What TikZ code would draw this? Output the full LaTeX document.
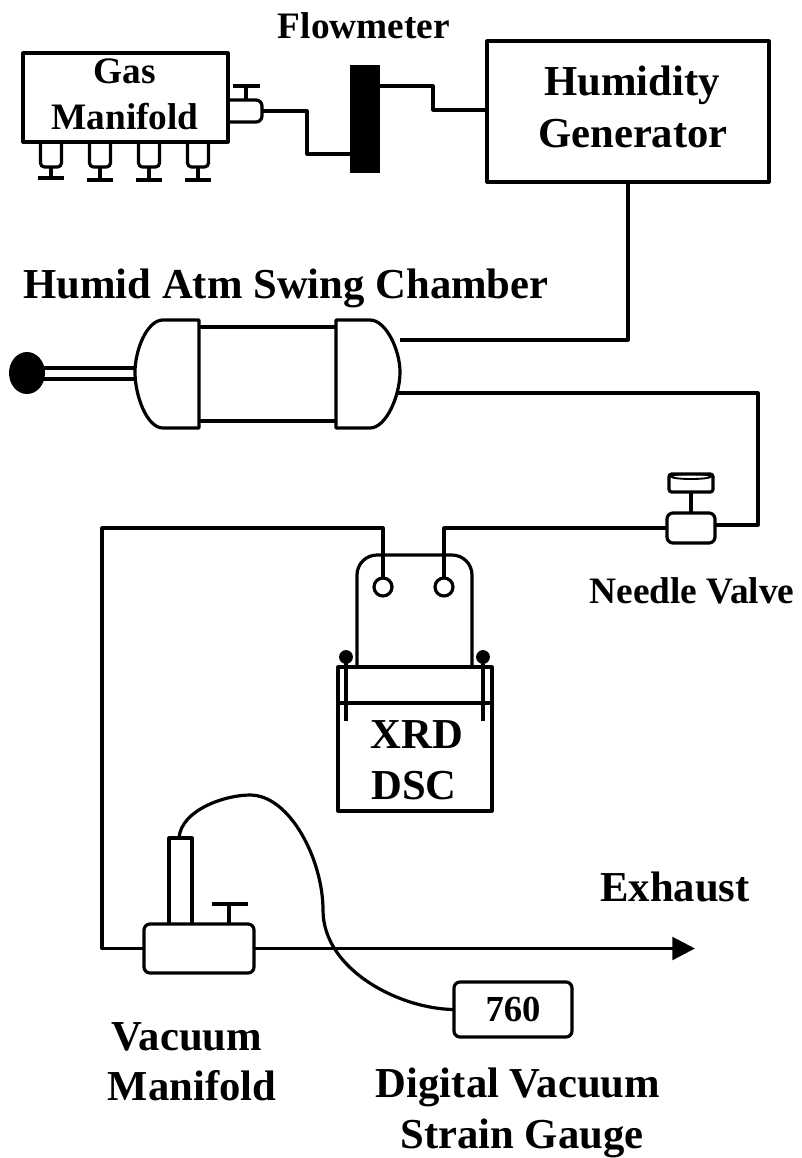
\documentclass[tikz,border=0pt]{standalone}
\usepackage{fontspec}
\setmainfont{Liberation Serif}
\usetikzlibrary{arrows.meta, shapes.geometric}
\def\px{0.75pt}
\tikzset{
    labelbig/.style={font=\fontsize{32}{39}\selectfont\bfseries, anchor=base, inner sep=0pt},
    labelsmall/.style={font=\fontsize{28}{34}\selectfont\bfseries, anchor=base, inner sep=0pt},
    box/.style={draw, rectangle, outer sep=0pt, inner sep=0pt},
    roundbox/.style={box, rounded corners=4.5pt}
}
\begin{document}
\begin{tikzpicture}[x=\px, y=-\px, line width=2.4pt, line join=round]

    \useasboundingbox (0,0) rectangle (801,1158);

    % Rubinetti del collettore gas
    \foreach \x/\y in {51/178, 100/180, 149/180, 198/180} {
        \draw[rounded corners=3pt] (\x-10.5,142) -- (\x-10.5,167) -- (\x+10.5,167) -- (\x+10.5,142);
        \draw (\x,167) -- (\x,\y);
        \draw (\x-13,\y) -- (\x+13,\y);
    }

    % Valvola e collettore gas
    \node[roundbox, minimum width=44*\px, minimum height=22*\px] (gasvalve) at (240,111) {};
    \draw (246,100) -- (246,86);
    \draw (233,86) -- (260,86);
    \node[box, fill=white, minimum width=205*\px, minimum height=89*\px] (gasbox) at (125.5,97.5) {};

    % Flussimetro e generatore
    \node[fill=black, outer sep=0pt, inner sep=0pt, minimum width=30*\px, minimum height=108*\px] (flowmeter) at (365,119) {};
    \node[box, minimum width=282*\px, minimum height=141*\px] (humgen) at (628,111.5) {};
    \coordinate (fmin) at (350,154);
    \coordinate (fmout) at (380,86);
    \coordinate (hgin) at (487,110);
    \draw (gasvalve.east) -- (307,111) -- (307,154) -- (fmin);
    \draw (fmout) -- (433,86) -- (433,110) -- (hgin);

    % Camera: calotte e corpo
    \draw (199,320) -- (163,320) .. controls (147,320) and (135,350) .. (135,372)
        .. controls (135,396) and (147,428) .. (163,428) -- (199,428) -- cycle;
    \draw (336,320) -- (370,320) .. controls (386,320) and (400,350) .. (400,372)
        .. controls (400,396) and (386,428) .. (370,428) -- (336,428) -- cycle;
    \draw (199,327) -- (336,327);
    \draw (199,421) -- (336,421);

    % Impugnatura
    \draw (40,368) -- (135,368);
    \draw (40,379) -- (135,379);
    \node[fill=black, ellipse, inner sep=0pt, minimum width=36*\px, minimum height=42*\px] (knob) at (27,373) {};

    % Linee dalla camera
    \coordinate (chamberin) at (400,340);
    \coordinate (chamberout) at (397,393);
    \node[roundbox, minimum width=48*\px, minimum height=30*\px] (needlevalve) at (691,528) {};
    \coordinate (nvin) at (715,525);
    \draw (humgen.south) -- (628,340) -- (chamberin);
    \draw (chamberout) -- (758,393) -- (758,525) -- (nvin);

    % Valvola a spillo
    \draw (691,513) -- (691,492);
    \draw[rounded corners=2pt] (669,474) rectangle (713,492);
    \draw[line width=1.4pt] (691,476.5) ellipse [x radius=20*\px, y radius=2.5*\px];

    % Testa del campione
    \draw[rounded corners=15pt] (357,667) -- (357,555) -- (472,555) -- (472,667);
    \node[box, circle, minimum size=18*\px] (portleft) at (383,587) {};
    \node[box, circle, minimum size=18*\px] (portright) at (444,587) {};
    \draw (needlevalve.west) -- (444,528) -- (portright.north);

    % Cella XRD / DSC
    \node[box, minimum width=154*\px, minimum height=144*\px] (xrdbox) at (415,739) {};
    \draw (338,703) -- (492,703);
    \foreach \x in {346,483} {
        \draw (\x,657) -- (\x,721);
        \fill (\x,657) circle (5.2pt);
    }

    % Collettore del vuoto
    \node[roundbox, minimum width=110*\px, minimum height=49*\px] (vacman) at (199,948.5) {};
    \draw (169,924) -- (169,838) -- (192,838) -- (192,924);
    \draw (229,924) -- (229,904);
    \draw (212,904) -- (248,904);
    \draw (portleft.north) -- (383,528) -- (102,528) -- (102,948.5) -- (vacman.west);
    \coordinate (exhaust) at (695,948.5);
    \draw[-{Triangle[length=17pt, width=17pt]}] (vacman.east) -- (exhaust);

    % Manometro
    \node[roundbox, minimum width=118*\px, minimum height=55*\px,
        font=\fontsize{27.5}{33}\selectfont\bfseries] (gauge) at (513,1009.5) {760};
    \coordinate (tubetop) at (179,838);
    \draw (tubetop) .. controls (181,810) and (225,795) .. (250,795)
        .. controls (290,795) and (323,860) .. (323,910)
        .. controls (323,970) and (400,1009) .. (gauge.west);

    % Etichette
    \node[labelsmall] (flowlabel) at (364,38) {Flowmeter};
    \node[labelsmall] (gaslabel) at (125,83) {Gas};
    \node[labelsmall] (manilabel) at (125,129) {Manifold};
    \node[labelbig] (humlabel) at (632,95) {Humidity};
    \node[labelbig] (genlabel) at (633,147) {Generator};
    \node[labelbig] (chamberlabel) at (286,298) {Humid Atm Swing Chamber};
    \node[labelsmall] (needlelabel) at (692,603) {Needle Valve};
    \node[labelbig] (xrdlabel) at (417,748) {XRD};
    \node[labelbig] (dsclabel) at (414,799) {DSC};
    \node[labelbig] (exhlabel) at (675,901) {Exhaust};
    \node[labelbig] (vaclabel) at (187,1050) {Vacuum};
    \node[labelbig] (vacmanlabel) at (192,1100) {Manifold};
    \node[labelbig] (diglabel) at (518,1097) {Digital Vacuum};
    \node[labelbig] (strainlabel) at (522,1148) {Strain Gauge};

\end{tikzpicture}
\end{document}
